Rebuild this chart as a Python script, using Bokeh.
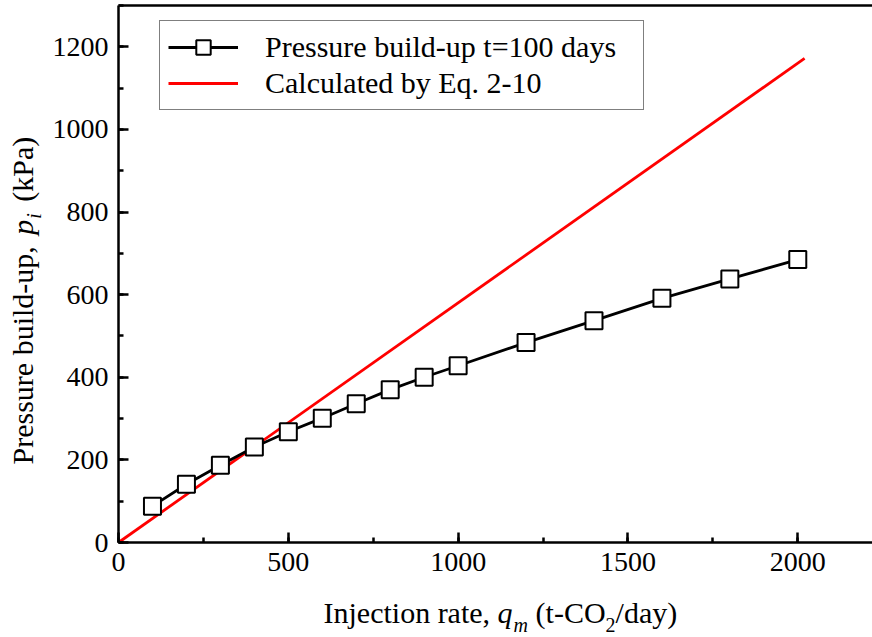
import math
from bokeh.plotting import figure
from bokeh.models import (Range1d, Legend, LegendItem, Label, LinearAxis,
                          SingleIntervalTicker, FixedTicker)
from bokeh.embed import file_html
from bokeh.resources import INLINE

# ---------------- data ----------------
injection_rate = [100, 200, 300, 400, 500, 600, 700, 800, 900, 1000,
                  1200, 1400, 1600, 1800, 2000]
pressure_buildup = [88, 141, 187, 231, 268, 301, 336, 370, 400, 428,
                    484, 537, 591, 638, 685]
calc_rate = [0, 2020]
calc_pressure = [0, 1172]

series_labels = ["Pressure build-up t=100 days", "Calculated by Eq. 2-10"]

FONT = "Liberation Serif"
WIDTH, HEIGHT = 872, 637
# data window shown by the axes and where it sits on the page
XA, XB, YA, YB = 0, 2220, 0, 1300
PX_L, PX_R, PX_T, PX_B = 118, 872, 5, 542

sx = (PX_R - PX_L) / (XB - XA)
sy = (PX_B - PX_T) / (YB - YA)
x_lo = XA - PX_L / sx
x_hi = XB + (WIDTH - PX_R) / sx
y_lo = YA - (HEIGHT - PX_B) / sy
y_hi = YB + PX_T / sy

# ---------------- figure ----------------
p = figure(width=WIDTH, height=HEIGHT, output_backend="svg",
           toolbar_location=None,
           x_range=Range1d(x_lo, x_hi), y_range=Range1d(y_lo, y_hi),
           min_border=0)
p.outline_line_color = None
p.xgrid.visible = False
p.ygrid.visible = False
p.background_fill_color = "white"
p.border_fill_color = "white"

bottom_axis = p.below[0]
left_axis = p.left[0]
bottom_axis.ticker = SingleIntervalTicker(interval=500, num_minor_ticks=2)
left_axis.ticker = SingleIntervalTicker(interval=200, num_minor_ticks=2)
bottom_axis.fixed_location = YA
left_axis.fixed_location = XA
bottom_axis.bounds = (XA, XB)
left_axis.bounds = (YA, YB)

top_axis = LinearAxis(ticker=FixedTicker(ticks=[]), fixed_location=YB,
                      bounds=(XA, XB))
p.add_layout(top_axis, "above")

for ax in (bottom_axis, left_axis, top_axis):
    ax.axis_line_width = 2.5
    ax.axis_line_color = "black"
    ax.major_tick_in = 10
    ax.major_tick_out = 0
    ax.minor_tick_in = 5
    ax.minor_tick_out = 0
    ax.major_tick_line_width = 2.5
    ax.minor_tick_line_width = 2.5
    ax.major_tick_line_color = "black"
    ax.minor_tick_line_color = "black"
    ax.major_label_text_font = FONT
    ax.major_label_text_font_size = "28px"
    ax.major_label_text_color = "black"
    ax.major_label_standoff = 10
    ax.axis_label = None

# ---------------- series ----------------
red = p.line(calc_rate, calc_pressure, line_color="#ff0000", line_width=2.8)
blk = p.line(injection_rate, pressure_buildup, line_color="black", line_width=2.8)
sq = p.scatter(injection_rate, pressure_buildup, marker="square", size=17,
               fill_color="white", line_color="black", line_width=2)

legend = Legend(items=[LegendItem(label=series_labels[0], renderers=[blk, sq]),
                       LegendItem(label=series_labels[1], renderers=[red])],
                location=(159, HEIGHT - 110), margin=0, padding=8, spacing=0,
                glyph_width=70, glyph_height=36, label_height=30,
                label_width=370, label_standoff=27,
                label_text_font=FONT, label_text_font_size="30px",
                label_text_color="black",
                border_line_color="black", border_line_width=1,
                background_fill_alpha=1.0)
p.add_layout(legend)

# ---------------- axis titles (rich text pieces) ----------------
W = {" ": 250, "(": 333, ")": 333, ",": 250, "-": 333, "/": 278, ".": 250,
     "=": 564, "A": 722, "C": 667, "E": 611, "I": 333, "O": 722, "P": 556,
     "a": 444, "b": 500, "c": 444, "d": 500, "e": 444, "i": 278, "j": 278,
     "k": 500, "l": 278, "m": 778, "n": 500, "o": 500, "p": 500, "q": 500,
     "r": 333, "s": 389, "t": 278, "u": 500, "y": 500}
WI = {"m": 722, "p": 500, "q": 500, "i": 278, "t": 278}


def tw(s, size, italic=False):
    tot = 0
    for ch in s:
        if italic and ch in WI:
            tot += WI[ch]
        else:
            tot += W.get(ch, 500)
    return tot * size / 1000.0


def rich(pieces, px0, py0, vertical=False):
    """Lay out text pieces starting at page pixel (px0, py0)."""
    pos = 0.0
    for text, size, italic, shift, gap in pieces:
        lead = len(text) - len(text.lstrip(" "))
        pos += tw(" " * lead, size)
        body = text.lstrip(" ")
        if vertical:
            px, py = px0 + shift, py0 - pos
            ang = math.pi / 2
        else:
            px, py = px0 + pos, py0 + shift
            ang = 0
        p.add_layout(Label(x=px, y=HEIGHT - py, x_units="screen",
                           y_units="screen", text=body, angle=ang,
                           text_font=FONT, text_font_size=f"{size}px",
                           text_font_style="italic" if italic else "normal",
                           text_color="black", text_align="left",
                           text_baseline="alphabetic"))
        pos += tw(body, size, italic) + gap


xlabel_pieces = [("Injection rate, ", 30, False, 0, 0), ("q", 30, True, 0, 1),
                 ("m", 20, True, 12, 0), (" (t-CO", 30, False, 0, 0),
                 ("2", 20, False, 12, 0), ("/day)", 30, False, 0, 0)]
ylabel_pieces = [("Pressure build-up, ", 30, False, 0, 4), ("p", 30, True, 0, 1),
                 ("i", 20, True, 11, 4), (" (kPa)", 30, False, 0, 0)]

rich(xlabel_pieces, 323, 612)
rich(ylabel_pieces, 22, 464, vertical=True)

open("out.html", "w").write(file_html(p, INLINE))
